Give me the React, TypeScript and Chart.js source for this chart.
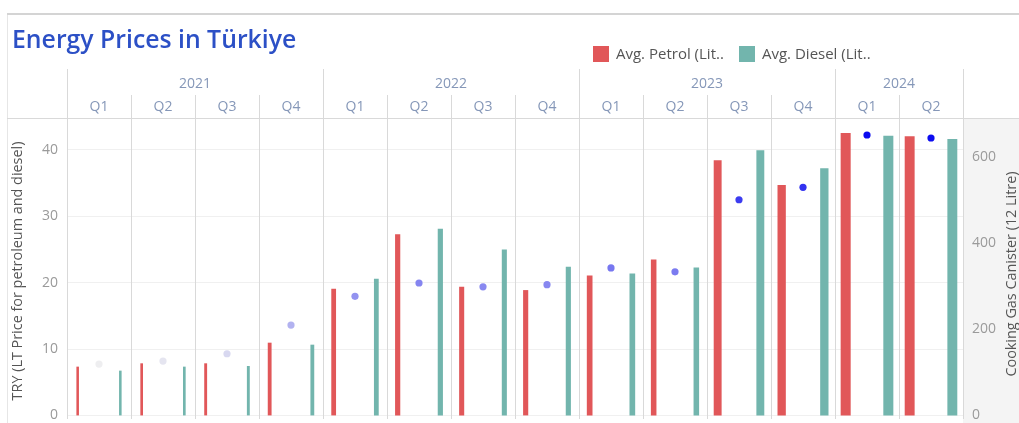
import React, { useEffect, useRef } from 'react';
import { Chart, registerables } from 'chart.js';

Chart.register(...registerables);

// Quarterly averages, 2021 Q1 – 2024 Q2
const periods = [
  '2021 Q1', '2021 Q2', '2021 Q3', '2021 Q4',
  '2022 Q1', '2022 Q2', '2022 Q3', '2022 Q4',
  '2023 Q1', '2023 Q2', '2023 Q3', '2023 Q4',
  '2024 Q1', '2024 Q2',
];
// TRY per litre
const petrolPrice = [7.4, 7.9, 7.9, 11.0, 19.1, 27.3, 19.4, 18.9, 21.1, 23.5, 38.4, 34.7, 42.5, 42.0];
const dieselPrice = [6.8, 7.4, 7.5, 10.7, 20.6, 28.1, 25.0, 22.4, 21.4, 22.3, 39.9, 37.2, 42.1, 41.6];
// TRY per 12 litre cooking gas canister
const gasCanisterPrice = [118, 125, 142, 209, 276, 307, 298, 303, 342, 333, 501, 530, 652, 645];

const priceTicks = [0, 10, 20, 30, 40];
const gasTicks = [0, 200, 400, 600];

const W = 1019;
const H = 423;
const PLOT_LEFT = 67;
const PLOT_RIGHT = 963;
const PLOT_TOP = 118;

const RED = '#e15759';
const TEAL = '#72b5ad';
const LINE = '#d9d9d9';
const HEADER_TEXT = '#8597b8';
const TICK_TEXT = '#9a9a9a';
const TITLE_TEXT = '#555555';
const FONT = '"Open Sans", "DejaVu Sans", sans-serif';

const gasMin = Math.min(...gasCanisterPrice);
const gasMax = Math.max(...gasCanisterPrice);

// sequential colour ramp for the canister marks: pale grey -> vivid blue
function gasColor(v: number): string {
  const t = Math.max(0, Math.min(1, (v - gasMin) / (gasMax - gasMin)));
  const k = Math.pow(t, 0.75);
  const from = [238, 238, 240];
  const to = [10, 10, 240];
  const c = from.map((f, i) => Math.round(f + (to[i] - f) * k));
  return `rgb(${c[0]},${c[1]},${c[2]})`;
}

// bar thickness grows with the canister price of the same quarter
function barWidthFor(v: number): number {
  return 0.9 + 0.014 * v;
}

const barSizePlugin = {
  id: 'barSizeByGas',
  afterDatasetsUpdate(chart: any) {
    chart.data.datasets.forEach((_ds: any, di: number) => {
      const meta = chart.getDatasetMeta(di);
      if (meta.type !== 'bar') return;
      meta.data.forEach((el: any, i: number) => {
        el.width = barWidthFor(gasCanisterPrice[i]);
      });
    });
  },
};

function columnEdges(chart: any): { x: number; yearStart: boolean }[] {
  const xs = chart.scales.x;
  const n = periods.length;
  const colW = (chart.chartArea.right - chart.chartArea.left) / n;
  const edges: { x: number; yearStart: boolean }[] = [];
  for (let i = 0; i <= n; i++) {
    const x = i < n ? xs.getPixelForValue(i) - colW / 2 : xs.getPixelForValue(n - 1) + colW / 2;
    const yearStart =
      i === 0 || i === n || periods[i].split(' ')[0] !== periods[i - 1].split(' ')[0];
    edges.push({ x: Math.round(x) + 0.5, yearStart });
  }
  return edges;
}

const decorPlugin = {
  id: 'tableDecor',
  beforeDraw(chart: any) {
    const { ctx, chartArea } = chart;
    ctx.save();
    ctx.fillStyle = '#ffffff';
    ctx.fillRect(0, 0, W, H);

    // right axis panel
    ctx.fillStyle = '#f4f4f4';
    ctx.fillRect(chartArea.right, PLOT_TOP, W - chartArea.right, H - PLOT_TOP);

    // outer frame
    ctx.fillStyle = '#d4d4d4';
    ctx.fillRect(7, 13, W - 7, 2);
    ctx.fillStyle = '#e6e6e6';
    ctx.fillRect(7, 15, 1, H - 15);

    // title
    ctx.fillStyle = '#2c50c6';
    ctx.font = `600 24.8px ${FONT}`;
    ctx.textAlign = 'left';
    ctx.textBaseline = 'alphabetic';
    ctx.fillText('Energy Prices in Türkiye', 12, 48);

    // legend
    const legend = [
      { color: RED, label: 'Avg. Petrol (Lit..', x: 593 },
      { color: TEAL, label: 'Avg. Diesel (Lit..', x: 739 },
    ];
    ctx.font = `15px ${FONT}`;
    ctx.textBaseline = 'middle';
    legend.forEach((l) => {
      ctx.fillStyle = l.color;
      ctx.fillRect(l.x, 46, 16, 16);
      ctx.fillStyle = TITLE_TEXT;
      ctx.fillText(l.label, l.x + 23, 54.5);
    });

    // header grid
    const edges = columnEdges(chart);
    ctx.strokeStyle = LINE;
    ctx.lineWidth = 1;
    ctx.beginPath();
    ctx.moveTo(7, PLOT_TOP + 0.5);
    ctx.lineTo(W, PLOT_TOP + 0.5);
    edges.forEach((e) => {
      ctx.moveTo(e.x, e.yearStart ? 69 : 95);
      ctx.lineTo(e.x, PLOT_TOP);
    });
    ctx.stroke();

    // header labels: years, then quarters
    const xs = chart.scales.x;
    ctx.fillStyle = HEADER_TEXT;
    ctx.font = `14px ${FONT}`;
    ctx.textAlign = 'center';
    ctx.textBaseline = 'middle';
    let start = 0;
    for (let i = 1; i <= periods.length; i++) {
      const y = periods[start].split(' ')[0];
      if (i === periods.length || periods[i].split(' ')[0] !== y) {
        const cx = (xs.getPixelForValue(start) + xs.getPixelForValue(i - 1)) / 2;
        ctx.fillText(y, cx, 84);
        start = i;
      }
    }
    periods.forEach((p, i) => {
      ctx.fillText(p.split(' ')[1], xs.getPixelForValue(i), 107);
    });
    ctx.restore();
  },
  beforeDatasetsDraw(chart: any) {
    const { ctx, chartArea } = chart;
    const edges = columnEdges(chart);
    ctx.save();
    ctx.strokeStyle = LINE;
    ctx.lineWidth = 1;
    ctx.beginPath();
    edges.forEach((e) => {
      ctx.moveTo(e.x, PLOT_TOP);
      ctx.lineTo(e.x, chartArea.bottom);
    });
    ctx.stroke();
    ctx.restore();
  },
  afterDraw(chart: any) {
    const { ctx, chartArea } = chart;
    const yl = chart.scales.y;
    const yr = chart.scales.y2;
    ctx.save();
    ctx.font = `14px ${FONT}`;
    ctx.fillStyle = TICK_TEXT;
    ctx.textBaseline = 'middle';
    ctx.textAlign = 'right';
    priceTicks.forEach((v) => {
      ctx.fillText(String(v), 58, Math.min(yl.getPixelForValue(v), H - 8));
    });
    ctx.textAlign = 'left';
    gasTicks.forEach((v) => {
      ctx.fillText(String(v), chartArea.right + 9, Math.min(yr.getPixelForValue(v), H - 8));
    });

    // axis titles
    ctx.fillStyle = TITLE_TEXT;
    ctx.font = `14.4px ${FONT}`;
    ctx.textAlign = 'center';
    ctx.save();
    ctx.translate(18, 271);
    ctx.rotate(-Math.PI / 2);
    ctx.fillText('TRY (LT Price for petroleum and diesel)', 0, 0);
    ctx.restore();
    ctx.save();
    ctx.translate(1012, 274);
    ctx.rotate(-Math.PI / 2);
    ctx.fillText('Cooking Gas Canister (12 Litre)', 0, 0);
    ctx.restore();
    ctx.restore();
  },
};

export default function App() {
  const ref = useRef<HTMLCanvasElement>(null);

  useEffect(() => {
    document.body.style.margin = '0';
    document.body.style.overflow = 'hidden';
    const canvas = ref.current;
    if (!canvas) return;

    const chart = new Chart(canvas, {
      type: 'bar',
      data: {
        labels: periods,
        datasets: [
          {
            type: 'bar',
            label: 'Avg. Petrol (Litre)',
            data: petrolPrice,
            backgroundColor: RED,
            yAxisID: 'y',
            categoryPercentage: 4 / 3,
            barPercentage: 1,
            order: 2,
          },
          {
            type: 'line',
            label: 'Cooking Gas Canister (12 Litre)',
            data: gasCanisterPrice,
            yAxisID: 'y2',
            showLine: false,
            pointRadius: 3.6,
            pointBorderWidth: 0,
            pointBackgroundColor: (c: any) => gasColor(c.raw as number),
            pointBorderColor: 'rgba(0,0,0,0)',
            order: 1,
          },
          {
            type: 'bar',
            label: 'Avg. Diesel (Litre)',
            data: dieselPrice,
            backgroundColor: TEAL,
            yAxisID: 'y',
            categoryPercentage: 4 / 3,
            barPercentage: 1,
            order: 3,
          },
        ] as any,
      },
      options: {
        animation: false,
        responsive: false,
        maintainAspectRatio: false,
        events: [],
        layout: { padding: { top: PLOT_TOP, left: 0, right: 0, bottom: 0 } },
        plugins: {
          legend: { display: false },
          title: { display: false },
          tooltip: { enabled: false },
        },
        scales: {
          x: { type: 'category', display: false, offset: true },
          y: {
            position: 'left',
            min: -0.465,
            max: 44.75,
            afterBuildTicks: (s: any) => {
              s.ticks = priceTicks.map((v) => ({ value: v }));
            },
            afterFit: (s: any) => {
              s.width = PLOT_LEFT;
            },
            ticks: { display: false },
            grid: { color: '#f0f0f0', drawTicks: false },
            border: { display: false },
          },
          y2: {
            position: 'right',
            min: -10.06,
            max: 691.6,
            afterBuildTicks: (s: any) => {
              s.ticks = gasTicks.map((v) => ({ value: v }));
            },
            afterFit: (s: any) => {
              s.width = W - PLOT_RIGHT;
            },
            ticks: { display: false },
            grid: { display: false },
            border: { display: false },
          },
        },
      } as any,
      plugins: [barSizePlugin, decorPlugin],
    });

    return () => chart.destroy();
  }, []);

  return (
    <div style={{ width: W, height: H, overflow: 'hidden' }}>
      <canvas ref={ref} width={W} height={H} style={{ display: 'block', width: W, height: H }} />
    </div>
  );
}
